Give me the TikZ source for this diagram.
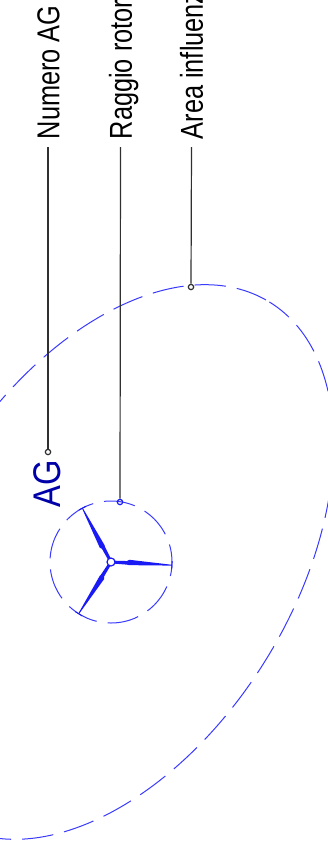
\documentclass[tikz,border=0pt]{standalone}
\usepackage{fontspec}
\setmainfont{Liberation Sans}
\usetikzlibrary{positioning}
\definecolor{cblue}{HTML}{1A1AF5}
\definecolor{cdash}{HTML}{3A3AFF}
\definecolor{cnavy}{HTML}{0000A8}
\definecolor{cline}{HTML}{303030}
\tikzset{
  callout/.style={rotate=90, anchor=west, yscale=1.25, font=\fontsize{19}{19}\selectfont, text height=13.7pt, text depth=0pt, inner xsep=5.6pt, inner ysep=0pt},
  leader/.style={draw=cline, line width=0.9pt},
  pin/.style={circle, draw=#1, line width=0.9pt, minimum size=4pt, inner sep=0pt},
  pin/.default=cline,
  zone/.style={draw=cdash, line width=0.75pt},
}
\begin{document}
\begin{tikzpicture}[x=0.75pt, y=-0.75pt]
  \useasboundingbox (0,0) rectangle (328,850);
  \clip (0,0) rectangle (328,850);
  \coordinate (hubc) at (111,562);
  % influence area and rotor circle
  \draw[zone, dash pattern=on 23.6pt off 8.3pt, dash phase=5pt] (110,562) ellipse [x radius=305, y radius=184, rotate=58.5];
  \draw[zone, dash pattern=on 23.6pt off 8.3pt, dash phase=13pt] (hubc) circle (61);
  % three blades with a small tick at the tip
  \foreach \a in {-3,118,238} {
    \fill[cblue, shift={(hubc)}, rotate=\a] (4,-1.5) -- (16,-1.8) -- (18,-3.2) -- (61,-0.4) -- (61,0.4) -- (18,2.2) -- (16,1.8) -- (4,1.5) -- cycle;
    \draw[cblue, line width=0.7pt, shift={(hubc)}, rotate=\a] (61,-4) -- (61,4);
  }
  \node[circle, draw=cblue, fill=white, line width=0.9pt, minimum size=6pt, inner sep=0pt] (hub) at (hubc) {};
  % turbine number
  \node[rotate=90, yscale=1.18, text=cnavy, font=\fontsize{24.5}{24.5}\selectfont, inner sep=0pt] (agtext) at (47.5,484) {AG};
  % labels cut by the top edge
  \node[callout] (numero) at (48,147) {Numero AG};
  \node[callout] (raggio) at (120.5,147) {Raggio rotore};
  \node[callout] (area) at (191.5,147) {Area influenza};
  \node[pin] (numerodot) at (48,452) {};
  \node[pin=cblue] (raggiodot) at (120,502) {};
  \node[pin] (areadot) at (191,287) {};
  \draw[leader] (numero.west) -- (numerodot);
  \draw[leader] (raggio.west) -- (raggiodot);
  \draw[leader] (area.west) -- (areadot);
\end{tikzpicture}
\end{document}
